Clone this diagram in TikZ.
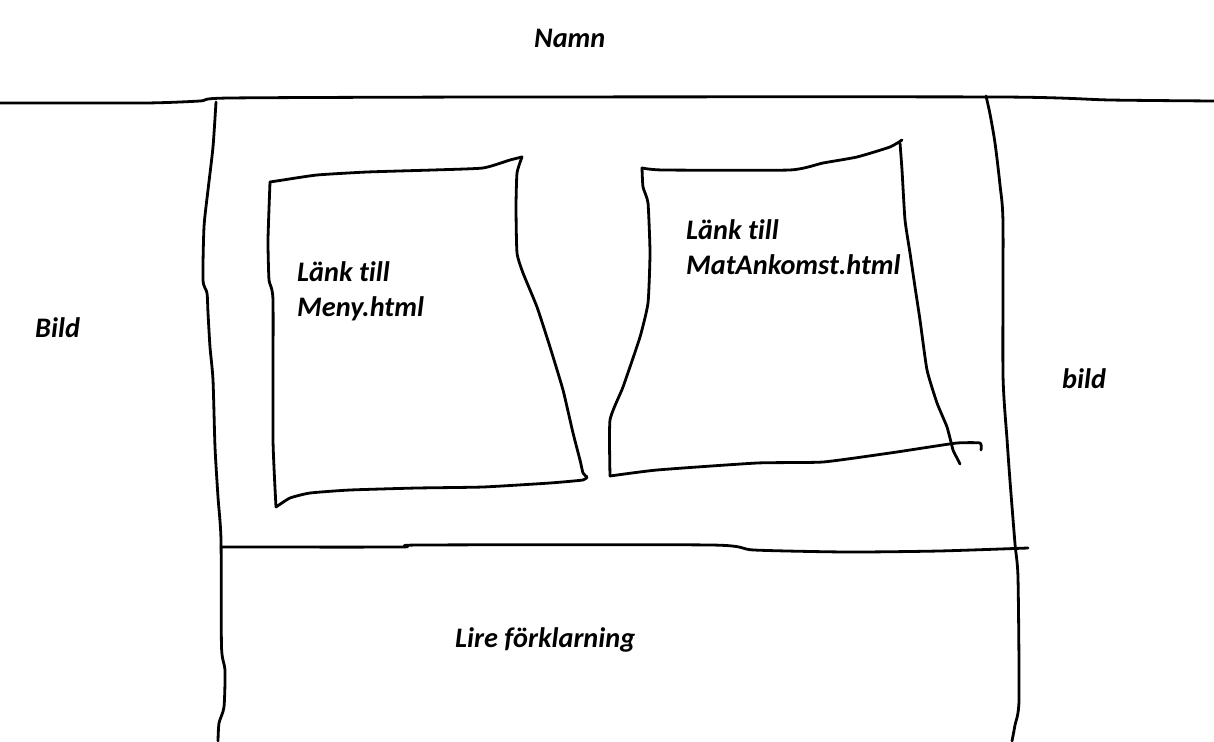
\documentclass[tikz,border=0pt]{standalone}
\usepackage{fontspec}
\setmainfont{Carlito}[Ligatures=NoCommon]
\begin{document}
\begin{tikzpicture}[x=1pt,y=-1pt,
  stroke/.style={line width=2.8pt,line cap=round,line join=round},
  lbl/.style={anchor=base west,inner sep=0pt,font=\fontsize{28.3}{35}\selectfont\bfseries\itshape,align=left}]
\useasboundingbox[fill=white] (0,0) rectangle (1214,741);
% frame lines
\draw[stroke] plot[smooth,tension=0.4] coordinates {(0,103) (145,103) (200,101) (230,98) (500,97) (1000,97) (1110,100) (1214,101)};
\draw[stroke] plot[smooth,tension=0.4] coordinates {(216,102) (213,147) (208,190) (204,227) (203,280) (207,293) (208,313) (210,347) (213,380) (215,447) (218,497) (221,540) (221.5,647) (225,670) (224,707) (219,723) (218,741)};
\draw[stroke] plot[smooth,tension=0.4] coordinates {(986,96) (990,114) (995,143) (1000,185) (1003,223) (1003,375) (1007,439) (1010,481) (1015,544) (1018,578) (1019,700) (1015,725) (1012,741)};
\draw[stroke] plot[smooth,tension=0.4] coordinates {(221,547) (400,547) (420,545) (711,545) (754,550) (847,552) (939,551) (1028,548)};
% box 1
\draw[stroke] plot[smooth,tension=0.3] coordinates {(270,182) (283,180) (317,175) (367,172) (433,170) (483,168) (510,160) (522,157)};
\draw[stroke] plot[smooth,tension=0.3] coordinates {(522,157) (517,173) (516,207) (517,253) (523,273) (537,307) (550,347) (563,390) (573,433) (580,460) (583,473) (587,477)};
\draw[stroke] plot[smooth,tension=0.3] coordinates {(587,477) (583,480) (550,483) (483,487) (417,488) (350,490) (310,493) (290,498) (276,507)};
\draw[stroke] plot[smooth,tension=0.3] coordinates {(276,507) (273,440) (273,300) (269,280) (268,240) (270,182)};
% box 2
\draw[stroke] plot[smooth,tension=0.3] coordinates {(642,168) (663,170) (790,170) (823,163) (857,157) (890,147) (902,140)};
\draw[stroke] plot[smooth,tension=0.3] coordinates {(900,143) (902,170) (905,220) (910,253) (915,287) (920,320) (927,370) (937,403) (947,427) (953,450) (957,458) (960,464)};
\draw[stroke] plot[smooth,tension=0.3] coordinates {(610,476) (657,470) (757,463) (823,462) (890,453) (923,448) (957,443) (980,443) (981,450)};
\draw[stroke] plot[smooth,tension=0.3] coordinates {(610,476) (610,420) (623,387) (640,337) (648,303) (650,253) (648,203) (643,187) (642,168)};
% texts
\node[lbl] (namn) at (534,48) {Namn};
\node[lbl] (bildl) at (35,337) {Bild};
\node[lbl] (bildr) at (1062,388) {bild};
\node[lbl] (meny) at (297,316) {Länk till\\Meny.html};
\node[lbl] (mat) at (686,274) {Länk till\\MatAnkomst.html};
\node[lbl] (lire) at (455,647) {Lire förklarning};
\end{tikzpicture}
\end{document}
